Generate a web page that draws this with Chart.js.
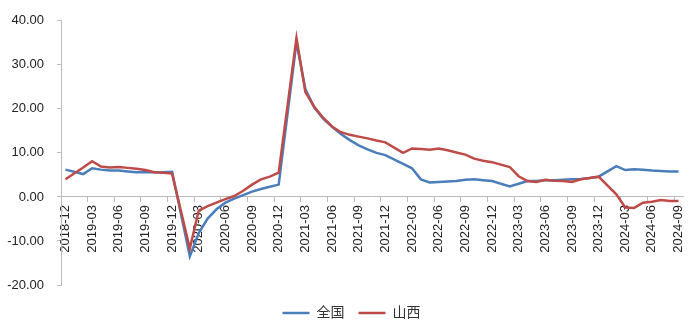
<!DOCTYPE html>
<html>
<head>
<meta charset="utf-8">
<title>工业增加值累计增速</title>
<script src="https://cdn.jsdelivr.net/npm/chart.js@4.4.1/dist/chart.umd.min.js"></script>
<style>
  html, body { margin: 0; padding: 0; background: #fff; }
  #wrap { width: 699px; height: 329px; }
</style>
</head>
<body>
<div id="wrap"><canvas id="chart" width="699" height="329"></canvas></div>
<script>
// Monthly cumulative growth (%), January has no release so it stays empty
const months = [
    '2018-12',
    '2019-01', '2019-02', '2019-03', '2019-04', '2019-05', '2019-06', '2019-07', '2019-08', '2019-09', '2019-10', '2019-11', '2019-12',
    '2020-01', '2020-02', '2020-03', '2020-04', '2020-05', '2020-06', '2020-07', '2020-08', '2020-09', '2020-10', '2020-11', '2020-12',
    '2021-01', '2021-02', '2021-03', '2021-04', '2021-05', '2021-06', '2021-07', '2021-08', '2021-09', '2021-10', '2021-11', '2021-12',
    '2022-01', '2022-02', '2022-03', '2022-04', '2022-05', '2022-06', '2022-07', '2022-08', '2022-09', '2022-10', '2022-11', '2022-12',
    '2023-01', '2023-02', '2023-03', '2023-04', '2023-05', '2023-06', '2023-07', '2023-08', '2023-09', '2023-10', '2023-11', '2023-12',
    '2024-01', '2024-02', '2024-03', '2024-04', '2024-05', '2024-06', '2024-07', '2024-08', '2024-09'
];

const national = [
    6.2,
    null, 5.2, 6.5, 6.2, 6.0, 6.0, 5.8, 5.6, 5.6, 5.6, 5.6, 5.7,
    null, -13.5, -8.2, -4.9, -2.8, -1.3, -0.4, 0.4, 1.2, 1.8, 2.3, 2.8,
    null, 35.1, 24.5, 20.3, 17.8, 15.9, 14.3, 12.9, 11.7, 10.8, 10.0, 9.5,
    null, 7.5, 6.5, 4.0, 3.3, 3.4, 3.5, 3.6, 3.9, 4.0, 3.8, 3.6,
    null, 2.4, 3.0, 3.6, 3.6, 3.8, 3.8, 3.9, 4.0, 4.1, 4.3, 4.6,
    null, 7.0, 6.1, 6.3, 6.2, 6.0, 5.9, 5.8, 5.8
];

const shanxi = [
    4.0,
    null, 6.7, 8.1, 6.9, 6.7, 6.8, 6.6, 6.4, 6.1, 5.6, 5.5, 5.3,
    null, -11.7, -3.1, -2.1, -1.3, -0.5, 0.2, 1.4, 2.8, 4.0, 4.6, 5.5,
    null, 36.1, 23.8, 20.5, 18.0, 16.0, 14.7, 14.1, 13.7, 13.3, 12.8, 12.4,
    null, 10.0, 11.0, 10.9, 10.7, 11.0, 10.6, 10.1, 9.6, 8.7, 8.2, 7.9,
    null, 6.8, 4.7, 3.6, 3.4, 3.9, 3.7, 3.6, 3.4, 4.0, 4.3, 4.6,
    null, 0.6, -2.4, -2.5, -1.3, -1.1, -0.7, -0.9, -0.9
];

const yTicks = [-20, -10, 0, 10, 20, 30, 40];

const AXIS_GREY = '#bcbcbc';
const TEXT_COLOR = '#222';
const FONT = "'Liberation Sans', 'Noto Sans CJK SC', sans-serif";

// push the legend row a little right and down under the plot
const legendNudge = {
    id: 'legendNudge',
    afterLayout(chart) {
        const lg = chart.legend;
        if (!lg) return;
        lg.left += 10;
        lg.right += 10;
        lg.top += 7;
        lg.bottom += 7;
    }
};

function createChart() {
    const ctx = document.getElementById('chart').getContext('2d');

    new Chart(ctx, {
        type: 'line',
        data: {
            labels: months,
            datasets: [
                {
                    label: '全国',
                    data: national,
                    borderColor: '#4a7ebb',
                    backgroundColor: '#4a7ebb',
                    borderWidth: 2.5,
                    order: 1
                },
                {
                    // drawn on top of the national line
                    label: '山西',
                    data: shanxi,
                    borderColor: '#be4b48',
                    backgroundColor: '#be4b48',
                    borderWidth: 2.5,
                    order: 0
                }
            ]
        },
        options: {
            responsive: false,
            animation: false,
            spanGaps: true,
            elements: {
                line: { tension: 0 },
                point: { radius: 0, hoverRadius: 0 }
            },
            layout: {
                padding: { top: 18, right: 16, bottom: 6, left: 0 }
            },
            scales: {
                x: {
                    type: 'category',
                    position: { y: 0 },
                    offset: true,
                    grid: {
                        offset: true,
                        drawOnChartArea: false,
                        drawTicks: true,
                        tickLength: 5,
                        color: c => (c.index % 3 === 0 ? AXIS_GREY : 'rgba(0,0,0,0)')
                    },
                    border: { display: true, color: AXIS_GREY, width: 1 },
                    ticks: {
                        autoSkip: false,
                        minRotation: 90,
                        maxRotation: 90,
                        padding: 3,
                        color: TEXT_COLOR,
                        font: { family: FONT, size: 13 },
                        callback: function (value, index) {
                            return index % 3 === 0 ? this.getLabelForValue(value) : '';
                        }
                    }
                },
                y: {
                    min: yTicks[0],
                    max: yTicks[yTicks.length - 1],
                    afterFit: scale => { scale.width = 61; },
                    afterBuildTicks: scale => {
                        scale.ticks = yTicks.map(v => ({ value: v }));
                    },
                    grid: {
                        drawOnChartArea: false,
                        drawTicks: true,
                        tickLength: 4,
                        color: AXIS_GREY
                    },
                    border: { display: true, color: AXIS_GREY, width: 1 },
                    ticks: {
                        padding: 13,
                        color: TEXT_COLOR,
                        font: { family: FONT, size: 13 },
                        callback: v => v.toFixed(2)
                    }
                }
            },
            plugins: {
                legend: {
                    position: 'bottom',
                    labels: {
                        usePointStyle: true,
                        pointStyle: 'line',
                        pointStyleWidth: 27,
                        padding: 14,
                        color: '#333',
                        font: { family: FONT, size: 14 },
                        sort: (a, b) => a.datasetIndex - b.datasetIndex
                    }
                },
                tooltip: { enabled: false }
            }
        },
        plugins: [legendNudge]
    });
}

document.addEventListener('DOMContentLoaded', createChart);
</script>
</body>
</html>
